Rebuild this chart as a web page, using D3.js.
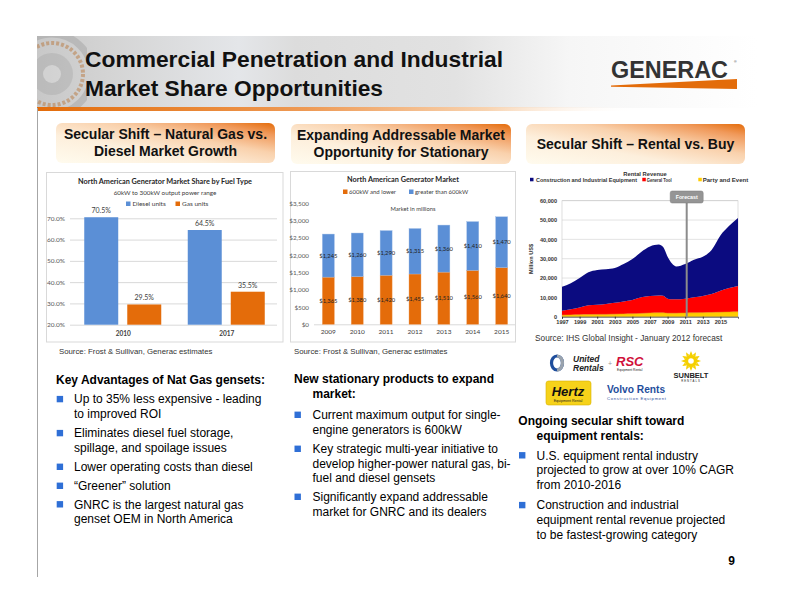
<!DOCTYPE html>
<html><head><meta charset="utf-8">
<script src="https://cdn.jsdelivr.net/npm/d3@7"></script>
<style>
body{margin:0;background:#fff}
svg{display:block}
text{font-family:"Liberation Sans",Arial,sans-serif}
.ch text{font-family:Lato,"Open Sans",sans-serif}
</style>
</head><body><svg id="c" width="792" height="612"></svg>
<script>
// ---------- data ----------
const fuelCategories = ["2010", "2017"];
const fuelSeries = ["Diesel units", "Gas units"];
const dieselShare = [70.5, 64.5];
const gasShare = [29.5, 35.5];
const shareTicks = [20, 30, 40, 50, 60, 70];

const marketYears = ["2009", "2010", "2011", "2012", "2013", "2014", "2015"];
const marketSeries = ["600kW and lower", "greater than 600kW"];
const lowerValues = [1365, 1380, 1420, 1455, 1510, 1560, 1640];
const upperValues = [1245, 1260, 1290, 1315, 1360, 1410, 1470];
const marketTicks = [0, 500, 1000, 1500, 2000, 2500, 3000, 3500];

const rentalYears = [1997, 1998, 1999, 2000, 2001, 2002, 2003, 2004, 2005, 2006, 2007, 2008, 2008.5, 2009, 2009.5, 2010, 2011, 2012, 2013, 2014, 2015, 2016, 2017];
const rentalSeries = ["Construction and Industrial Equipment", "General Tool", "Party and Event"];
const constructionRev = [12400, 13500, 15200, 17100, 18000, 18000, 18000, 19300, 21200, 23500, 25600, 26300, 25200, 21700, 18500, 17000, 18000, 19500, 20300, 22800, 28600, 32200, 35100];
const toolRev = [2300, 2900, 3800, 4800, 5000, 5400, 5900, 6500, 7100, 8300, 8800, 9000, 8800, 7500, 7200, 7200, 7400, 8000, 8600, 9500, 11100, 12400, 13400];
const partyRev = [800, 900, 1000, 1100, 1200, 1200, 1300, 1400, 1500, 1700, 1900, 2000, 2000, 1800, 1800, 1800, 1900, 2000, 2100, 2200, 2300, 2400, 2500];
const rentalYTicks = [0, 10000, 20000, 30000, 40000, 50000, 60000];
const rentalXTicks = [1997, 1999, 2001, 2003, 2005, 2007, 2009, 2011, 2013, 2015];
const forecastYear = 2011;

// ---------- setup ----------
const svg = d3.select("#c");
const defs = svg.append("defs");

function linGrad(id, x1, y1, x2, y2, stops) {
  const g = defs.append("linearGradient").attr("id", id)
    .attr("x1", x1).attr("y1", y1).attr("x2", x2).attr("y2", y2);
  stops.forEach(s => g.append("stop").attr("offset", s[0]).attr("stop-color", s[1]).attr("stop-opacity", s[2] == null ? 1 : s[2]));
}
linGrad("hdr", 0, 0, 1, 0, [[0, "#c8c8c8"], [0.1, "#d4d4d4"], [0.28, "#e4e6e9"], [0.36, "#dcdcdc"], [0.58, "#e2e2e2"], [0.74, "#f6f6f6"], [1, "#ffffff"]]);
linGrad("stripe", 0, 0, 1, 0, [[0, "#e36c0a"], [0.45, "#ee9a55"], [0.75, "#f8d3b0"], [1, "#ffffff", 0]]);
linGrad("sec", 0, 1, 1, 0, [[0, "#fffbee"], [0.35, "#fdefdc"], [0.62, "#f9d1ac"], [0.85, "#f0995a"], [1, "#e46c0a"]]);

// ---------- header ----------
svg.append("rect").attr("x", 37).attr("y", 36).attr("width", 720).attr("height", 72).attr("fill", "url(#hdr)");
defs.append("clipPath").attr("id", "gearclip").append("rect").attr("x", 37).attr("y", 36).attr("width", 50).attr("height", 72);
const gear = svg.append("g").attr("clip-path", "url(#gearclip)").attr("opacity", 0.4);
gear.append("circle").attr("cx", 52).attr("cy", 74).attr("r", 40).attr("fill", "none").attr("stroke", "#9a9a9a").attr("stroke-width", 7);
gear.append("circle").attr("cx", 52).attr("cy", 74).attr("r", 31).attr("fill", "none").attr("stroke", "#b5651d").attr("stroke-width", 4).attr("stroke-dasharray", "3 2");
gear.append("circle").attr("cx", 52).attr("cy", 74).attr("r", 21).attr("fill", "#a8a8a8");
gear.append("circle").attr("cx", 52).attr("cy", 74).attr("r", 9).attr("fill", "#e0e0e0");
svg.append("rect").attr("x", 37).attr("y", 107).attr("width", 600).attr("height", 4).attr("fill", "url(#stripe)");
svg.append("line").attr("x1", 37.5).attr("x2", 37.5).attr("y1", 108).attr("y2", 577).attr("stroke", "#a6a6a6").attr("stroke-width", 1);

svg.append("text").attr("x", 85).attr("y", 67).attr("font-size", 22).attr("font-weight", "bold").attr("fill", "#111")
  .attr("textLength", 418).attr("lengthAdjust", "spacingAndGlyphs").text("Commercial Penetration and Industrial");
svg.append("text").attr("x", 85).attr("y", 96).attr("font-size", 22).attr("font-weight", "bold").attr("fill", "#111")
  .attr("textLength", 298).attr("lengthAdjust", "spacingAndGlyphs").text("Market Share Opportunities");

// GENERAC logo
svg.append("text").attr("x", 611).attr("y", 77.5).attr("font-size", 24.5).attr("font-weight", "bold").attr("fill", "#333").attr("textLength", 117).attr("lengthAdjust", "spacingAndGlyphs").text("GENERAC");
svg.append("text").attr("x", 734).attr("y", 63).attr("font-size", 3.5).attr("fill", "#333").text("®");
svg.append("path").attr("d", "M611,85.5 L737,79 L737,89 L611,86.8 Z").attr("fill", "#e36c0a");

// ---------- section headers ----------
function section(x, y, w, h, lines) {
  const g = svg.append("g");
  g.append("rect").attr("x", x).attr("y", y).attr("width", w).attr("height", h).attr("rx", 6).attr("fill", "url(#sec)");
  lines.forEach(l => g.append("text").attr("x", x + w / 2).attr("y", l[1]).attr("text-anchor", "middle")
    .attr("font-size", 14).attr("font-weight", "bold").attr("fill", "#111").text(l[0]));
}
section(56, 123, 219, 40, [["Secular Shift – Natural Gas vs.", 139], ["Diesel Market Growth", 155.5]]);
section(291, 124, 220, 40, [["Expanding Addressable Market", 140], ["Opportunity for Stationary", 156.5]]);
section(526, 124, 219, 40, [["Secular Shift – Rental vs. Buy", 148.5]]);

// ---------- left chart ----------
const blue = "#5b8fd6", orange = "#e46c0a";
const L = svg.append("g").attr("class", "ch");
L.append("rect").attr("x", 46.5).attr("y", 172.5).attr("width", 236.5).attr("height", 169.5).attr("fill", "#fff").attr("stroke", "#d9d9d9");
const yS = d3.scaleLinear().domain([20, 70]).range([324.7, 218.3]);
const x0 = d3.scaleBand().domain(fuelCategories).range([71, 278]);
const x1 = d3.scaleBand().domain(fuelSeries).range([13.25, 90.25]).paddingInner(0.21);
const ly = L.append("g").attr("transform", "translate(70,0)")
  .call(d3.axisLeft(yS).tickValues(shareTicks).tickFormat(d => d.toFixed(1) + "%").tickSize(-207).tickPadding(5));
ly.select(".domain").remove();
ly.selectAll("line").attr("stroke", "#d9d9d9");
ly.selectAll("text").attr("font-size", 6.5).attr("fill", "#595959").attr("font-family", "Lato,sans-serif");
const shareRows = fuelCategories.map((c, i) => ({ c, vals: [dieselShare[i], gasShare[i]] }));
shareRows.forEach(r => {
  r.vals.forEach((v, j) => {
    const s = fuelSeries[j];
    const bx = x0(r.c) + x1(s);
    L.append("rect").attr("x", bx).attr("y", yS(v)).attr("width", x1.bandwidth()).attr("height", yS(20) - yS(v)).attr("fill", j ? orange : blue);
    L.append("text").attr("x", bx + x1.bandwidth() / 2).attr("y", yS(v) - 4).attr("text-anchor", "middle")
      .attr("font-size", 7).attr("fill", "#404040").text(v.toFixed(1) + "%");
  });
  L.append("text").attr("x", x0(r.c) + x0.bandwidth() / 2 + 0.5).attr("y", 335.7).attr("text-anchor", "middle")
    .attr("font-size", 6.5).attr("font-weight", "bold").attr("fill", "#404040").text(r.c);
});
L.append("text").attr("x", 165).attr("y", 184).attr("text-anchor", "middle").attr("font-size", 7.3).attr("font-weight", "bold").attr("fill", "#262626").text("North American Generator Market Share by Fuel Type");
L.append("text").attr("x", 165).attr("y", 195).attr("text-anchor", "middle").attr("font-size", 6.3).attr("fill", "#404040").text("60kW to 300kW output power range");
[[126, 0], [175.5, 1]].forEach(([lx, j]) => {
  L.append("rect").attr("x", lx).attr("y", 201.5).attr("width", 4.5).attr("height", 4.5).attr("fill", j ? orange : blue);
  L.append("text").attr("x", lx + 6.5).attr("y", 206).attr("font-size", 6.5).attr("fill", "#404040").text(fuelSeries[j]);
});

// ---------- middle chart ----------
const M = svg.append("g").attr("class", "ch");
M.append("rect").attr("x", 290.5).attr("y", 171.5).attr("width", 225).attr("height", 170.5).attr("fill", "#fff").attr("stroke", "#d9d9d9");
const yM = d3.scaleLinear().domain([0, 3500]).range([324.3, 203.3]);
const xM = d3.scaleBand().domain(marketYears).range([313.9, 516.1]).paddingInner(0.585).paddingOuter(0.2925);
const my = M.append("g").attr("transform", "translate(312,0)")
  .call(d3.axisLeft(yM).tickValues(marketTicks).tickFormat(d3.format("$,")).tickSize(0).tickPadding(3));
my.select(".domain").remove();
my.selectAll("text").attr("font-size", 6.3).attr("fill", "#595959").attr("font-family", "Lato,sans-serif");
M.append("line").attr("x1", 314).attr("x2", 515).attr("y1", yM(0) + 0.5).attr("y2", yM(0) + 0.5).attr("stroke", "#d9d9d9");
const marketRows = marketYears.map((y, i) => ({ year: y, lower: lowerValues[i], upper: upperValues[i] }));
const mStack = d3.stack().keys(["lower", "upper"])(marketRows);
mStack.forEach((layer, li) => {
  layer.forEach(d => {
    const bx = xM(d.data.year);
    M.append("rect").attr("x", bx).attr("y", yM(d[1])).attr("width", xM.bandwidth()).attr("height", yM(d[0]) - yM(d[1]))
      .attr("fill", li ? blue : orange).attr("stroke", li ? "#9dbbe6" : "#f0a060").attr("stroke-width", 0.4);
    M.append("text").attr("x", bx + xM.bandwidth() / 2).attr("y", yM((d[0] + d[1]) / 2) + 2).attr("text-anchor", "middle")
      .attr("font-size", 5.8).attr("fill", "#222").text(d3.format("$,")(d[1] - d[0]));
  });
});
marketYears.forEach(y => M.append("text").attr("x", xM(y) + xM.bandwidth() / 2).attr("y", 334.3).attr("text-anchor", "middle")
  .attr("font-size", 6.5).attr("fill", "#404040").text(y));
M.append("text").attr("x", 403).attr("y", 182).attr("text-anchor", "middle").attr("font-size", 7.3).attr("font-weight", "bold").attr("fill", "#262626").text("North American Generator Market");
M.append("text").attr("x", 413).attr("y", 211).attr("text-anchor", "middle").attr("font-size", 5.8).attr("fill", "#404040").text("Market in millions");
[[343, 0], [409, 1]].forEach(([lx, j]) => {
  M.append("rect").attr("x", lx).attr("y", 189.5).attr("width", 4.5).attr("height", 4.5).attr("fill", j ? blue : orange);
  M.append("text").attr("x", lx + 6).attr("y", 194).attr("font-size", 6).attr("fill", "#404040").text(marketSeries[j]);
});

// ---------- right chart ----------
const R = svg.append("g");
const navy = "#0b0b80", red = "#ff0000", yellow = "#ffcc00";
const xR = d3.scaleLinear().domain([1997, 2017]).range([562, 738]);
const yR = d3.scaleLinear().domain([0, 60000]).range([316.7, 200.7]);
rentalYTicks.forEach(t => R.append("line").attr("x1", 562).attr("x2", 738).attr("y1", yR(t)).attr("y2", yR(t)).attr("stroke", "#d0d0d0").attr("stroke-width", 0.6));
R.append("rect").attr("x", 562).attr("y", yR(60000)).attr("width", 176).attr("height", yR(0) - yR(60000)).attr("fill", "none").attr("stroke", "#c8c8c8").attr("stroke-width", 0.6);
const rentalRows = rentalYears.map((y, i) => ({ year: y, c: constructionRev[i], t: toolRev[i], p: partyRev[i] }));
const rStack = d3.stack().keys(["p", "t", "c"])(rentalRows);
const area = d3.area().x(d => xR(d.data.year)).y0(d => yR(d[0])).y1(d => yR(d[1])).curve(d3.curveMonotoneX);
const rColors = { p: yellow, t: red, c: navy };
rStack.forEach(layer => R.append("path").attr("d", area(layer)).attr("fill", rColors[layer.key]));
R.append("path").attr("d", d3.line().x(d => xR(d.data.year)).y(d => yR(d[1])).curve(d3.curveMonotoneX)(rStack[0])).attr("fill", "none").attr("stroke", "#e8a000").attr("stroke-width", 0.6);
const ry = R.append("g").attr("transform", "translate(562,0)")
  .call(d3.axisLeft(yR).tickValues(rentalYTicks).tickFormat(d3.format(",")).tickSize(0).tickPadding(5));
ry.select(".domain").remove();
ry.selectAll("text").attr("font-size", 5.6).attr("font-weight", "bold").attr("fill", "#333");
const rx = R.append("g").attr("transform", `translate(0,${yR(0)})`)
  .call(d3.axisBottom(xR).tickValues(rentalXTicks).tickFormat(d => String(d)).tickSize(2).tickPadding(1.5));
rx.select(".domain").attr("stroke", "#333").attr("stroke-width", 0.8);
rx.selectAll("line").attr("stroke", "#333");
rx.selectAll("text").attr("font-size", 5.6).attr("font-weight", "bold").attr("fill", "#333");
const fx = xR(forecastYear) + 1.5;
R.append("line").attr("x1", fx).attr("x2", fx).attr("y1", 202).attr("y2", yR(0)).attr("stroke", "#8c8c8c").attr("stroke-width", 2);
R.append("rect").attr("x", fx - 16.5).attr("y", 191).attr("width", 33).attr("height", 12).attr("rx", 2).attr("fill", "#959595").attr("stroke", "#7a7a7a").attr("stroke-width", 0.5);
R.append("text").attr("x", fx).attr("y", 199).attr("text-anchor", "middle").attr("font-size", 5.3).attr("font-weight", "bold").attr("fill", "#fff").text("Forecast");
R.append("text").attr("x", 645).attr("y", 175.5).attr("text-anchor", "middle").attr("font-size", 5.8).attr("font-weight", "bold").attr("fill", "#333").text("Rental Revenue");
[[530, 536, navy, 0, 101], [642.3, 646.7, red, 1, 25], [698.3, 702.7, yellow, 2, 45.5]].forEach(([sx, tx, col, j, tl]) => {
  R.append("rect").attr("x", sx).attr("y", 177.8).attr("width", 3.5).attr("height", 3.5).attr("fill", col);
  R.append("text").attr("x", tx).attr("y", 181.5).attr("font-size", 5.3).attr("font-weight", "bold").attr("fill", "#333")
    .attr("textLength", tl).attr("lengthAdjust", "spacingAndGlyphs").text(rentalSeries[j]);
});
R.append("text").attr("transform", "translate(533,259) rotate(-90)").attr("text-anchor", "middle").attr("font-size", 5.6).attr("font-weight", "bold").attr("fill", "#333").text("Million US$");

// ---------- sources ----------
svg.append("text").attr("x", 59).attr("y", 353.5).attr("font-size", 7.8).attr("fill", "#333").text("Source: Frost & Sullivan, Generac estimates");
svg.append("text").attr("x", 294).attr("y", 353.5).attr("font-size", 7.8).attr("fill", "#333").text("Source: Frost & Sullivan, Generac estimates");
svg.append("text").attr("x", 535).attr("y", 340.5).attr("font-size", 8.3).attr("fill", "#333").text("Source: IHS Global Insight  - January 2012 forecast");

// ---------- logos ----------
const G = svg.append("g");
G.append("ellipse").attr("cx", 557).attr("cy", 363).attr("rx", 5.5).attr("ry", 7).attr("fill", "none").attr("stroke", "#1f4e9c").attr("stroke-width", 3.2);
G.append("path").attr("d", "M557,356 A5.5,7 0 0 1 557,370").attr("fill", "none").attr("stroke", "#9aa3ad").attr("stroke-width", 3.2);
G.append("text").attr("x", 573).attr("y", 362).attr("font-size", 8.5).attr("font-weight", "bold").attr("font-style", "italic").attr("fill", "#222").text("United");
G.append("text").attr("x", 573).attr("y", 370.5).attr("font-size", 8.5).attr("font-weight", "bold").attr("font-style", "italic").attr("fill", "#222").text("Rentals");
G.append("text").attr("x", 608).attr("y", 366).attr("font-size", 7).attr("fill", "#999").text("+");
G.append("text").attr("x", 616).attr("y", 365.5).attr("font-size", 13).attr("font-weight", "bold").attr("font-style", "italic").attr("fill", "#d0103a").text("RSC");
G.append("text").attr("x", 617).attr("y", 370.5).attr("font-size", 3.2).attr("fill", "#222").text("Equipment Rental");
const sun = G.append("g").attr("transform", "translate(691,361)");
d3.range(12).forEach(i => sun.append("path").attr("d", "M-1.6,-6 L0,-10 L1.6,-6 Z").attr("fill", "#f5d000").attr("transform", `rotate(${i * 30})`));
sun.append("circle").attr("r", 6.2).attr("fill", "#f5d000");
sun.append("circle").attr("r", 2.8).attr("fill", "#fff");
G.append("text").attr("x", 691).attr("y", 378).attr("text-anchor", "middle").attr("font-size", 7.5).attr("font-weight", "bold").attr("fill", "#222").text("SUNBELT");
G.append("text").attr("x", 691).attr("y", 382).attr("text-anchor", "middle").attr("font-size", 2.8).attr("letter-spacing", 1).attr("fill", "#222").text("RENTALS");
G.append("rect").attr("x", 546).attr("y", 381).attr("width", 45).attr("height", 24).attr("rx", 2.5).attr("fill", "#f6d21a").attr("stroke", "#d8b400").attr("stroke-width", 0.6);
G.append("text").attr("x", 568).attr("y", 395.5).attr("text-anchor", "middle").attr("font-size", 13).attr("font-weight", "bold").attr("font-style", "italic").attr("fill", "#111").text("Hertz");
G.append("text").attr("x", 568).attr("y", 402).attr("text-anchor", "middle").attr("font-size", 3.6).attr("fill", "#222").text("Equipment Rental");
G.append("text").attr("x", 607).attr("y", 392.5).attr("font-size", 10.2).attr("font-weight", "bold").attr("fill", "#1f4e9c").text("Volvo Rents");
G.append("text").attr("x", 607).attr("y", 399.5).attr("font-size", 4.2).attr("fill", "#1f4e9c").attr("textLength", 59).text("Construction Equipment");

// ---------- body text ----------
const bulletBlue = "#2f6fd6", LH = 14.6;
function block(heading, bx, tx, bullets) {
  heading.forEach(h => svg.append("text").attr("x", h[1]).attr("y", h[2]).attr("font-size", 12).attr("font-weight", "bold").attr("fill", "#000").text(h[0]));
  bullets.forEach(b => {
    svg.append("rect").attr("x", bx).attr("y", b.y - 7.4).attr("width", 6.4).attr("height", 6.4).attr("fill", bulletBlue);
    b.lines.forEach((l, i) => svg.append("text").attr("x", tx).attr("y", b.y + i * LH).attr("font-size", 12).attr("fill", "#000").text(l));
  });
}
block([["Key Advantages of Nat Gas gensets:", 56, 384.3]], 56.7, 74, [
  { y: 403.3, lines: ["Up to 35% less expensive - leading", "to improved ROI"] },
  { y: 437.3, lines: ["Eliminates diesel fuel storage,", "spillage, and spoilage issues"] },
  { y: 471, lines: ["Lower operating costs than diesel"] },
  { y: 490, lines: ["“Greener” solution"] },
  { y: 508.5, lines: ["GNRC is the largest natural gas", "genset OEM in North America"] }
]);
block([["New stationary products to expand", 294, 383.3], ["market:", 312.5, 398]], 294.5, 312.5, [
  { y: 419, lines: ["Current maximum output for single-", "engine generators is 600kW"] },
  { y: 453, lines: ["Key strategic multi-year initiative to", "develop higher-power natural gas, bi-", "fuel and diesel gensets"] },
  { y: 501, lines: ["Significantly expand addressable", "market for GNRC and its dealers"] }
]);
block([["Ongoing secular shift toward", 518.3, 425], ["equipment rentals:", 536.5, 439.6]], 519, 536.5, [
  { y: 459.5, lines: ["U.S. equipment rental industry", "projected to grow at over 10% CAGR", "from 2010-2016"] },
  { y: 509.3, lines: ["Construction and industrial", "equipment rental revenue projected", "to be fastest-growing category"] }
]);
svg.append("text").attr("x", 735).attr("y", 565).attr("text-anchor", "end").attr("font-size", 12).attr("font-weight", "bold").attr("fill", "#000").text("9");
</script></body></html>
